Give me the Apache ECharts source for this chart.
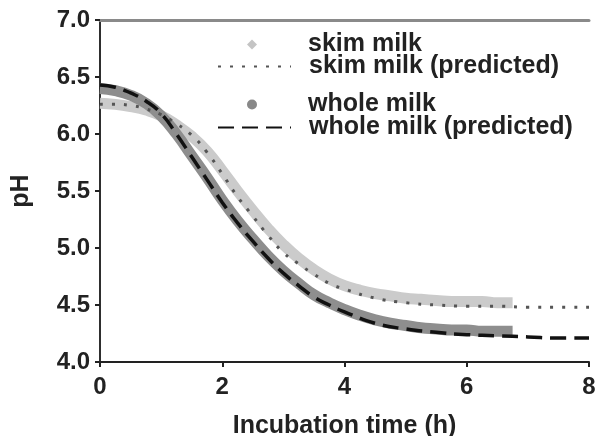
<!DOCTYPE html>
<html>
<head>
<meta charset="utf-8">
<script src="https://cdn.jsdelivr.net/npm/echarts@6/dist/echarts.min.js"></script>
<style>
  html, body { margin: 0; padding: 0; background: #fff; }
  #main { width: 595px; height: 436px; }
</style>
</head>
<body>
<div id="main"></div>
<script>
var timeMeasured = [0, 0.25, 0.5, 0.75, 1, 1.25, 1.5, 1.75, 2, 2.25, 2.5, 2.75, 3, 3.25, 3.5, 3.75, 4, 4.25, 4.5, 4.75, 5, 5.25, 5.5, 5.75, 6, 6.25, 6.5, 6.75];
var skimMeasured = [6.27, 6.26, 6.24, 6.21, 6.16, 6.08, 5.98, 5.85, 5.68, 5.50, 5.33, 5.17, 5.03, 4.91, 4.81, 4.73, 4.67, 4.63, 4.60, 4.58, 4.56, 4.55, 4.54, 4.53, 4.53, 4.53, 4.52, 4.52];
var wholeMeasured = [6.40, 6.38, 6.34, 6.27, 6.16, 6.00, 5.81, 5.62, 5.42, 5.24, 5.08, 4.93, 4.80, 4.69, 4.59, 4.52, 4.46, 4.41, 4.37, 4.34, 4.32, 4.30, 4.29, 4.28, 4.28, 4.27, 4.27, 4.27];

var timePredicted = [0, 0.25, 0.5, 0.75, 1, 1.25, 1.5, 1.75, 2, 2.25, 2.5, 2.75, 3, 3.25, 3.5, 3.75, 4, 4.5, 5, 5.5, 6, 6.5, 7, 7.5, 8];
var skimPredicted = [6.26, 6.26, 6.25, 6.22, 6.17, 6.09, 5.99, 5.84, 5.65, 5.45, 5.28, 5.11, 4.96, 4.86, 4.77, 4.69, 4.64, 4.56, 4.52, 4.50, 4.49, 4.49, 4.48, 4.48, 4.48];
var wholePredicted = [6.43, 6.41, 6.36, 6.29, 6.18, 6.00, 5.80, 5.60, 5.40, 5.22, 5.06, 4.91, 4.78, 4.67, 4.57, 4.50, 4.44, 4.34, 4.29, 4.26, 4.24, 4.23, 4.22, 4.21, 4.21];

var xTicks = [0, 2, 4, 6, 8];
var yTicks = [4.0, 4.5, 5.0, 5.5, 6.0, 6.5, 7.0];

var textColor = "#222";
var fontFamily = "'Liberation Sans', Arial, sans-serif";

function pairs(xs, ys) {
  return xs.map(function (x, i) { return [x, ys[i]]; });
}

// one legend per row, so the gap between the two groups can differ
function legendRow(name, left, top, w, h, padLeft, extra) {
  var lg = {
    data: [name],
    left: left,
    top: top,
    padding: 0,
    itemWidth: w,
    itemHeight: h,
    selectedMode: false,
    textStyle: {
      color: textColor,
      fontFamily: fontFamily,
      fontWeight: "bold",
      fontSize: 25,
      padding: [0, 0, 0, padLeft]
    }
  };
  for (var k in extra) lg[k] = extra[k];
  return lg;
}

var myChart = echarts.init(document.getElementById("main"));
var option = {
  animation: false,
  grid: {
    left: 100,
    right: 6,
    top: 20,
    bottom: 74,
    outerBoundsMode: "none"
  },
  legend: [
    legendRow("skim milk", 247, 32, 10, 10, 46, { icon: "diamond" }),
    legendRow("skim milk (predicted)", 217, 54, 73, 14, 13, { itemStyle: { opacity: 0 } }),
    legendRow("whole milk", 247, 92, 10, 10, 46, { icon: "circle" }),
    legendRow("whole milk (predicted)", 217, 115, 73, 14, 13, { itemStyle: { opacity: 0 } })
  ],
  xAxis: [{
    type: "value",
    min: xTicks[0],
    max: xTicks[xTicks.length - 1],
    interval: 2,
    name: "Incubation time (h)",
    nameLocation: "middle",
    nameGap: 52,
    nameTextStyle: {
      color: textColor,
      fontFamily: fontFamily,
      fontWeight: "bold",
      fontSize: 25
    },
    axisLine: { lineStyle: { color: "#222", width: 2 } },
    axisTick: { length: 5, lineStyle: { color: "#222", width: 2 } },
    axisLabel: {
      margin: 13,
      color: textColor,
      fontFamily: fontFamily,
      fontWeight: "bold",
      fontSize: 24
    },
    splitLine: { show: false }
  }, {
    type: "value",
    position: "top",
    min: xTicks[0],
    max: xTicks[xTicks.length - 1],
    axisLine: { show: true, lineStyle: { color: "#8a8a8a", width: 3 } },
    axisTick: { show: false },
    axisLabel: { show: false },
    splitLine: { show: false }
  }],
  yAxis: [{
    type: "value",
    min: yTicks[0],
    max: yTicks[yTicks.length - 1],
    interval: 0.5,
    name: "pH",
    nameLocation: "middle",
    nameGap: 66,
    nameTextStyle: {
      color: textColor,
      fontFamily: fontFamily,
      fontWeight: "bold",
      fontSize: 25
    },
    axisLine: { show: true, lineStyle: { color: "#222", width: 2 } },
    axisTick: { show: true, length: 5, lineStyle: { color: "#222", width: 2 } },
    axisLabel: {
      margin: 10,
      color: textColor,
      fontFamily: fontFamily,
      fontWeight: "bold",
      fontSize: 24,
      formatter: function (v) { return v.toFixed(1); }
    },
    splitLine: { show: false }
  }, {
    type: "value",
    position: "right",
    min: yTicks[0],
    max: yTicks[yTicks.length - 1],
    axisLine: { show: true, lineStyle: { color: "#333", width: 1.5 } },
    axisTick: { show: false },
    axisLabel: { show: false },
    splitLine: { show: false }
  }],
  series: [{
    name: "skim milk",
    type: "line",
    smooth: true,
    showSymbol: false,
    z: 1,
    itemStyle: { color: "#c4c4c4" },
    lineStyle: { color: "#cbcbcb", width: 11 },
    data: pairs(timeMeasured, skimMeasured)
  }, {
    name: "whole milk",
    type: "line",
    smooth: true,
    showSymbol: false,
    z: 1,
    itemStyle: { color: "#888" },
    lineStyle: { color: "#8e8e8e", width: 11 },
    data: pairs(timeMeasured, wholeMeasured)
  }, {
    name: "skim milk (predicted)",
    type: "line",
    smooth: true,
    symbol: "none",
    z: 3,
    itemStyle: { color: "#555" },
    lineStyle: { color: "#555", width: 3, type: [3, 9] },
    data: pairs(timePredicted, skimPredicted)
  }, {
    name: "whole milk (predicted)",
    type: "line",
    smooth: true,
    symbol: "none",
    z: 3,
    itemStyle: { color: "#111" },
    lineStyle: { color: "#111", width: 3.5, type: [16, 8] },
    data: pairs(timePredicted, wholePredicted)
  }]
};
myChart.setOption(option);
</script>
</body>
</html>
